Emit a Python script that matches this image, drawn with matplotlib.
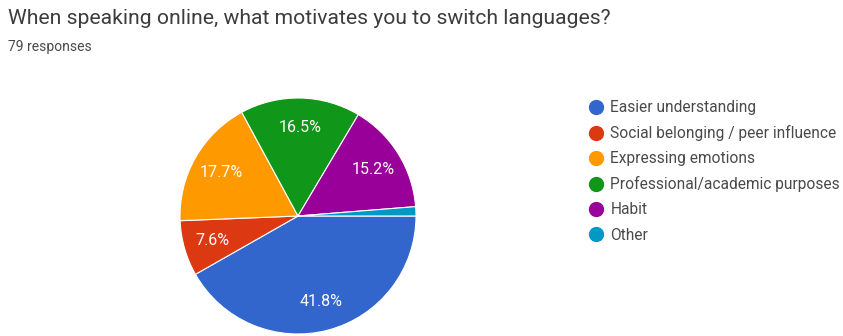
import matplotlib
matplotlib.use("Agg")
import matplotlib.pyplot as plt
from matplotlib.lines import Line2D

plt.rcParams["font.family"] = ["Roboto", "DejaVu Sans"]

# respostas do formulário
labels = ["Easier understanding", "Social belonging / peer influence", "Expressing emotions",
          "Professional/academic purposes", "Habit", "Other"]
counts = [33, 6, 14, 13, 12, 1]
colors = ["#3366cc", "#dc3912", "#ff9900", "#109618", "#990099", "#0099c6"]
total = 79

W, H = 843, 336
fig = plt.figure(figsize=(W / 100, H / 100), dpi=100)

# pie em coordenadas de pixel: centro (298, 216), raio 118
cx, cy, r = 298, 216, 118
ax = fig.add_axes([(cx - r) / W, (H - cy - r) / H, 2 * r / W, 2 * r / H])


def pct_label(p):
    # sem rótulo nas fatias muito pequenas
    return f"{p:.1f}%" if p >= 5 else ""


wedges, texts, autotexts = ax.pie(counts, colors=colors, startangle=0, counterclock=False,
                                  autopct=pct_label, pctdistance=0.75,
                                  wedgeprops={"edgecolor": "white", "linewidth": 0.8},
                                  textprops={"color": "white", "fontsize": 11.5})
ax.set_xlim(-1, 1)
ax.set_ylim(-1, 1)
ax.set_aspect("equal")

fig.text(8 / W, 1 - 19 / H, "When speaking online, what motivates you to switch languages?",
         fontsize=15.2, color="#3c3c3c", va="center", ha="left")
fig.text(8 / W, 1 - 47 / H, f"{total} responses", fontsize=10, color="#4a4a4a", va="center", ha="left")

handles = [Line2D([], [], marker="o", linestyle="", markersize=10, markerfacecolor=c,
                  markeredgecolor=c) for c in colors]
fig.legend(handles, labels, loc="upper left", bbox_to_anchor=(587 / W, 1 - 100 / H),
           frameon=False, fontsize=11.2, labelcolor="#4a4a4a", handletextpad=0.4,
           handlelength=1.1, labelspacing=0.65, borderaxespad=0, borderpad=0)

fig.savefig("out.png", dpi=100, facecolor="white")
